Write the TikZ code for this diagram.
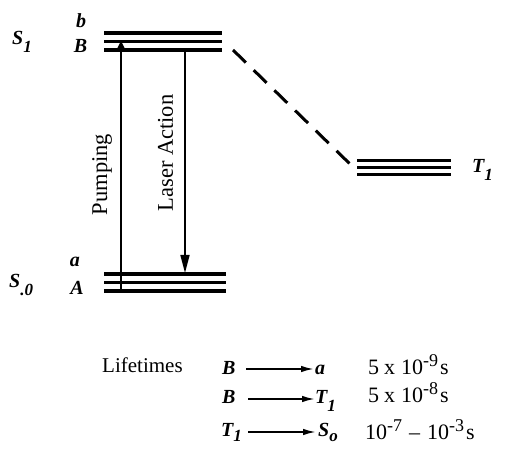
\documentclass[tikz,border=0pt]{standalone}
\usepackage{fontspec}
\setmainfont{Liberation Serif}
\usetikzlibrary{arrows.meta}
\newcommand\lsub[1]{\raisebox{-8pt}{\fontsize{17}{17}\selectfont\bfseries\itshape #1}}
\newcommand\lsubb[1]{\raisebox{-5pt}{\fontsize{17}{17}\selectfont\bfseries\itshape #1}}
\newcommand\pwr[1]{\raisebox{8pt}{\fontsize{18}{18}\selectfont #1}}
\begin{document}
\begin{tikzpicture}[x=1pt,y=-1pt,
  level/.style={line width=3.2pt},
  trans/.style={line width=1.6pt},
  lab/.style={inner sep=0pt,anchor=base,font=\fontsize{20}{20}\selectfont\bfseries\itshape},
  vlab/.style={inner sep=0pt,rotate=90,font=\fontsize{22.5}{22.5}\selectfont},
  txt/.style={inner sep=0pt,anchor=base west,font=\fontsize{21}{21}\selectfont},
  num/.style={inner sep=0pt,anchor=base west,font=\fontsize{22}{22}\selectfont},
  life/.style={line width=1.8pt,-{Latex[length=13pt,width=6.5pt]}}]
\useasboundingbox (0,0) rectangle (507,449);
% S1 levels
\foreach \y/\n in {33/1,41.5/2,50/3}{
  \coordinate (s1l\n) at (104,\y); \coordinate (s1r\n) at (222,\y);
  \draw[level] (s1l\n) -- (s1r\n);}
% S0 levels
\foreach \y/\n in {274/1,282.5/2,291/3}{
  \coordinate (s0l\n) at (104,\y); \coordinate (s0r\n) at (226,\y);
  \draw[level] (s0l\n) -- (s0r\n);}
% T1 levels
\foreach \y/\n in {160.3/1,167.3/2,174.5/3}{
  \coordinate (t1l\n) at (357,\y); \coordinate (t1r\n) at (451,\y);
  \draw[level] (t1l\n) -- (t1r\n);}
% transitions
\coordinate (pb) at (121,291);
\coordinate (pt) at (121,41);
\draw[trans,-{Triangle[length=11pt,width=11pt]}] (pb) -- (pt);
\coordinate (lt) at (185,50);
\coordinate (lb) at (185,273);
\draw[trans,-{Triangle[length=18pt,width=9pt]}] (lt) -- (lb);
\coordinate (ds) at (233,50);
\coordinate (de) at (350,164);
\draw[line width=3pt,dash pattern=on 18pt off 10.9pt] (ds) -- (de);
% labels
\node[lab] (b) at (81,28) {b};
\node[lab] (B) at (80.5,53) {B};
\node[lab,anchor=base west] (S1) at (12,45) {S\lsub{1}};
\node[lab] (a) at (75,267) {a};
\node[lab] (A) at (77,295) {A};
\node[lab,anchor=base west] (S0) at (9,288) {S\lsub{.0}};
\node[lab,anchor=base west] (T1) at (472,173) {T\lsub{1}};
\node[vlab] (pump) at (102,174.5) {Pumping};
\node[vlab] (laser) at (165.5,153) {Laser Action};
% lifetimes
\node[txt] (lt0) at (102,373) {Lifetimes};
\node[lab,anchor=base west] (r1a) at (222,375) {B};
\node[lab,anchor=base west] (r1b) at (315,375) {a};
\coordinate (r1s) at (246,369); \coordinate (r1e) at (314,369);
\draw[life] (r1s) -- (r1e);
\node[num] (r1t) at (368,375) {5\hspace{5pt}x\hspace{6pt}10\pwr{-9}\hspace{2pt}s};
\node[lab,anchor=base west] (r2a) at (222,404) {B};
\node[lab,anchor=base west] (r2b) at (315,404) {T\lsub{1}};
\coordinate (r2s) at (248,399); \coordinate (r2e) at (315,399);
\draw[life] (r2s) -- (r2e);
\node[num] (r2t) at (368,403) {5\hspace{5pt}x\hspace{6pt}10\pwr{-8}\hspace{2pt}s};
\node[lab,anchor=base west] (r3a) at (221,437) {T\lsubb{1}};
\node[lab,anchor=base west] (r3b) at (318,437) {S\lsubb{o}};
\coordinate (r3s) at (248,432); \coordinate (r3e) at (316,432);
\draw[life] (r3s) -- (r3e);
\node[num] (r3t) at (365,440) {10\pwr{-7}\hspace{7pt}--\hspace{7pt}10\pwr{-3}\hspace{2pt}s};
\end{tikzpicture}
\end{document}
